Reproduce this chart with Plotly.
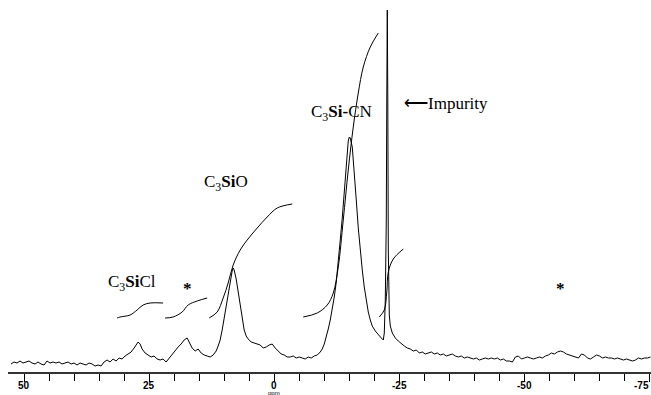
import plotly.graph_objects as go

# ---- data (chemical shift in ppm, intensity in arbitrary units) ----
spec_ppm = [52.6, 52.0, 51.4, 50.8, 50.2, 49.6, 49.0, 48.4, 47.8, 47.2, 46.6, 46.0, 45.4, 44.8, 44.2,
            43.6, 43.0, 42.4, 41.8, 41.2, 40.6, 40.0, 39.4, 38.8, 38.2, 37.6, 37.0, 36.4, 35.8, 35.2,
            34.6, 34.0, 33.4, 32.8, 32.2, 31.6, 31.0, 30.4, 29.8, 29.2, 28.6, 28.0, 27.6, 27.2, 26.8,
            26.4, 25.8, 25.2, 24.6, 24.0, 23.4, 22.8, 22.2, 21.6, 21.0, 20.4, 19.8, 19.2, 18.6, 18.0,
            17.4, 17.0, 16.4, 15.8, 15.2, 14.6, 14.0, 13.4, 12.8, 12.2, 11.6, 11.2, 10.8, 10.4, 10.0,
            9.6, 9.2, 8.8, 8.4, 8.2, 8.0, 7.6, 7.2, 6.8, 6.4, 6.0, 5.6, 5.2, 4.6, 4.0,
            3.4, 2.8, 2.2, 1.6, 1.0, 0.4, -0.2, -0.8, -1.4, -2.0, -2.6, -3.2, -3.8, -4.4, -5.0,
            -5.6, -6.2, -6.8, -7.4, -8.0, -8.6, -9.2, -9.6, -10.0, -10.4, -10.8, -11.2, -11.6, -12.0, -12.4,
            -12.8, -13.2, -13.6, -14.0, -14.4, -14.8, -15.0, -15.2, -15.6, -16.0, -16.4, -16.8, -17.2, -17.6, -18.0,
            -18.4, -18.8, -19.2, -19.6, -20.2, -20.8, -21.4, -21.8, -22.0, -22.2, -22.4, -22.5, -22.6, -22.7, -22.8,
            -23.0, -23.2, -23.6, -24.2, -24.8, -25.4, -26.0, -26.6, -27.2, -27.8, -28.4, -29.0, -29.6, -30.2, -30.8,
            -31.4, -32.0, -32.6, -33.2, -33.8, -34.4, -35.0, -35.6, -36.2, -36.8, -37.4, -38.0, -38.6, -39.2, -39.8,
            -40.4, -41.0, -41.6, -42.2, -42.8, -43.4, -44.0, -44.6, -45.2, -45.8, -46.4, -47.0, -47.6, -48.2, -48.8,
            -49.4, -50.0, -50.6, -51.2, -51.8, -52.4, -53.0, -53.6, -54.2, -54.8, -55.4, -56.0, -56.6, -57.2, -57.8,
            -58.4, -59.0, -59.6, -60.2, -60.8, -61.4, -62.0, -62.6, -63.2, -63.8, -64.4, -65.0, -65.6, -66.2, -66.8,
            -67.4, -68.0, -68.6, -69.2, -69.8, -70.4, -71.0, -71.6, -72.2, -72.8, -73.4, -74.0, -74.6, -75.2]
spec_int = [8, 10, 9, 11, 9, 10, 11, 9, 8, 10, 8, 7, 11, 9, 10,
            9, 10, 8, 9, 10, 8, 9, 7, 9, 8, 7, 9, 8, 6, 7,
            6, 10, 12, 10, 13, 11, 14, 13, 16, 18, 20, 24, 27, 30, 28,
            23, 19, 17, 15, 16, 13, 12, 13, 10, 14, 18, 22, 25, 28, 32,
            34, 30, 24, 21, 23, 19, 17, 16, 15, 17, 21, 26, 32, 42, 54,
            66, 79, 90, 101, 104, 102, 93, 79, 65, 52, 42, 36, 33, 30, 29,
            28, 27, 24, 25, 27, 28, 24, 21, 18, 17, 15, 15, 16, 14, 15,
            14, 13, 15, 14, 16, 17, 20, 23, 28, 35, 43, 52, 63, 75, 90,
            108, 132, 154, 182, 212, 231, 235, 234, 225, 202, 172, 144, 121, 102, 85,
            71, 60, 52, 46, 41, 37, 34, 32, 39, 72, 152, 272, 362, 272, 122,
            57, 46, 39, 34, 31, 28, 26, 24, 23, 21, 22, 19, 20, 18, 19,
            20, 18, 19, 17, 18, 16, 17, 18, 16, 15, 16, 14, 15, 14, 13,
            14, 12, 13, 14, 13, 14, 13, 14, 12, 13, 11, 11, 10, 15, 16,
            13, 14, 15, 14, 13, 14, 15, 14, 16, 17, 19, 18, 20, 21, 20,
            18, 17, 16, 15, 14, 18, 17, 14, 13, 15, 17, 16, 14, 15, 14,
            14, 13, 14, 13, 12, 13, 12, 11, 12, 14, 13, 14, 14, 15]

# integral traces
int1_ppm = [31.4, 30.8, 28.8, 27.4, 26.2, 24.8, 22.2]
int1_val = [54, 55, 57, 62, 67, 69, 69]
int2_ppm = [21.8, 20.2, 18.4, 17.2, 15.4, 13.4]
int2_val = [54, 55, 60, 67, 71, 74]
int3_ppm = [13.0, 11.4, 10.2, 9.2, 8.2, 6.8, 5.4, 3.4, 1.4, -0.6, -3.6]
int3_val = [54, 60, 74, 89, 107, 122, 132, 144, 155, 164, 168]
int4_ppm = [-5.8, -8.6, -10.6, -11.8, -12.8, -13.8, -14.8, -15.8, -16.8, -17.8, -19.2, -20.8]
int4_val = [55, 59, 67, 79, 105, 152, 202, 245, 279, 305, 325, 339]
int5_ppm = [-21.0, -22.0, -22.5, -22.8, -23.8, -25.8]
int5_val = [55, 62, 80, 100, 113, 123]

tick_vals = [50, 25, 0, -25, -50, -75]
tick_text = ["50", "25", "0", "-25", "-50", "-75"]

labels = [
    ("C<sub>3</sub><b>Si</b>Cl", 28.4, 89),
    ("<b>*</b>", 17.4, 84),
    ("C<sub>3</sub><b>Si</b>O", 9.6, 189),
    ("C<sub>3</sub><b>Si-</b>CN", -13.4, 259),
    ("\u27f5Impurity", -34.4, 269),
    ("<b>*</b>", -57.2, 84),
]

fig = go.Figure()
fig.add_trace(go.Scatter(x=spec_ppm, y=spec_int, mode="lines",
                         line=dict(color="black", width=1), hoverinfo="skip"))
for xs, ys in [(int1_ppm, int1_val), (int2_ppm, int2_val), (int3_ppm, int3_val),
               (int4_ppm, int4_val), (int5_ppm, int5_val)]:
    fig.add_trace(go.Scatter(x=xs, y=ys, mode="lines", line=dict(color="black", width=1, shape="spline"),
                             hoverinfo="skip"))

for txt, x, y in labels:
    fig.add_annotation(x=x, y=y, text=txt, showarrow=False, xanchor="center", yanchor="middle",
                       font=dict(family="Liberation Serif", size=17, color="black"))

# tick labels placed along the x scale, just under the tick marks
for i, (v, t) in enumerate(zip(tick_vals, tick_text)):
    last = i == len(tick_vals) - 1
    fig.add_annotation(x=v, y=-0.036, yref="paper", text="<b>%s</b>" % t, showarrow=False,
                       xanchor="right" if last else "center", xshift=1 if last else 0,
                       yanchor="middle",
                       font=dict(family="Liberation Sans", size=10, color="black"))

fig.add_annotation(x=0, y=-0.056, yref="paper", text="ppm", showarrow=False, yanchor="middle",
                   font=dict(family="Liberation Sans", size=6, color="black"))

fig.update_layout(
    width=651, height=395, margin=dict(l=8, r=0, t=0, b=23),
    paper_bgcolor="white", plot_bgcolor="white", showlegend=False,
    xaxis=dict(range=[53.2, -75.3], tickvals=tick_vals, showticklabels=False,
               ticks="outside", ticklen=8, tickwidth=1.3, tickcolor="black",
               showline=True, linecolor="#333", linewidth=2, showgrid=False, zeroline=False,
               minor=dict(dtick=5, tick0=0, ticks="outside", ticklen=7, tickwidth=1, tickcolor="black",
                          showgrid=False)),
    yaxis=dict(range=[0, 372], visible=False, showgrid=False, zeroline=False),
)

fig.write_html("out.html")
